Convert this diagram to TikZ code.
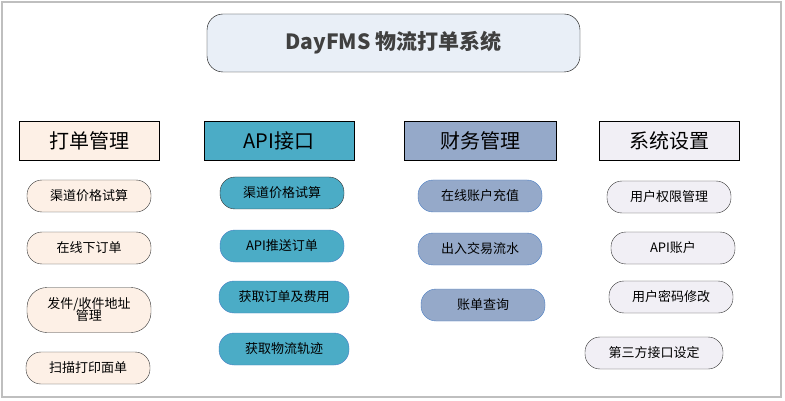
\documentclass[tikz,border=0pt]{standalone}
\usepackage{fontspec}
\setmainfont{Noto Sans CJK SC}
\begin{document}
\begin{tikzpicture}[x=1pt,y=-1pt,
 hdr/.style={draw=black,minimum height=39pt,font=\fontsize{20}{22}\selectfont,inner sep=0pt},
 item/.style={draw=black!80,rounded corners=15pt,minimum height=32pt,font=\fontsize{13}{15}\selectfont,inner sep=2pt,align=center}]
\definecolor{cpeach}{HTML}{FDF0E6}
\definecolor{cteal}{HTML}{4BACC6}
\definecolor{cslate}{HTML}{95A9C9}
\definecolor{clav}{HTML}{F1EFF5}
\definecolor{ctitle}{HTML}{E9EFF7}
\definecolor{cblue}{HTML}{4A7EC4}
\useasboundingbox (0,0) rectangle (785,401);
\draw[black!25,line width=1.2pt] (2,2) rectangle (781,397);
\node[draw=black,fill=ctitle,rounded corners=16pt,minimum width=373pt,minimum height=58pt,font=\fontsize{21}{24}\selectfont\bfseries,text=black!75] (title) at (393.5,43) {DayFMS 物流打单系统};
\node[hdr,fill=cpeach,minimum width=140pt] (h1) at (89,141) {打单管理};
\node[hdr,fill=cteal,minimum width=150pt] (h2) at (279,141) {API接口};
\node[hdr,fill=cslate,minimum width=152pt] (h3) at (480,141) {财务管理};
\node[hdr,fill=clav,minimum width=140pt] (h4) at (669,141) {系统设置};
\begin{scope}[every node/.append style={item,fill=cpeach,minimum width=124pt}]
\node (a1) at (89,196) {渠道价格试算};
\node (a2) at (89,248) {在线下订单};
\node[minimum height=45pt,rounded corners=20pt] (a3) at (89,310) {发件/收件地址\\[-3pt]管理};
\node (a4) at (88,368) {扫描打印面单};
\end{scope}
\begin{scope}[every node/.append style={item,fill=cteal,minimum width=124pt}]
\node (b1) at (282,193) {渠道价格试算};
\node[draw=cblue] (b2) at (282,246) {API推送订单};
\node[draw=cblue,minimum width=130pt] (b3) at (284,297) {获取订单及费用};
\node[draw=cblue,minimum width=130pt] (b4) at (284,349) {获取物流轨迹};
\end{scope}
\begin{scope}[every node/.append style={item,fill=cslate,draw=cblue,minimum width=124pt}]
\node (c1) at (480,196) {在线账户充值};
\node (c2) at (480,249) {出入交易流水};
\node (c3) at (483,305) {账单查询};
\end{scope}
\begin{scope}[every node/.append style={item,fill=clav,minimum width=124pt}]
\node (d1) at (669,197) {用户权限管理};
\node (d2) at (673,248) {API账户};
\node (d3) at (671,297) {用户密码修改};
\node[minimum width=138pt] (d4) at (654,353) {第三方接口设定};
\end{scope}
\end{tikzpicture}
\end{document}
